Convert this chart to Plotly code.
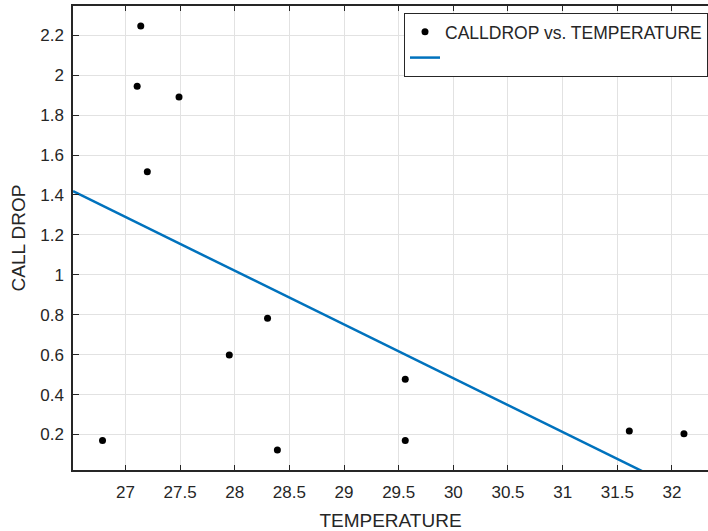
import plotly.graph_objects as go

# Data
temperature = [26.79, 27.14, 27.107, 27.49, 27.20, 28.30, 27.95, 28.39, 29.56, 29.56, 31.61, 32.11]
call_drop = [0.17, 2.247, 1.945, 1.891, 1.516, 0.782, 0.598, 0.122, 0.477, 0.17, 0.217, 0.204]

# Fitted line (read endpoints)
fit_x = [26.52, 32.33]
fit_y = [1.419, -0.146]

x_ticks = [27, 27.5, 28, 28.5, 29, 29.5, 30, 30.5, 31, 31.5, 32]
x_ticktext = ["27", "27.5", "28", "28.5", "29", "29.5", "30", "30.5", "31", "31.5", "32"]
y_ticks = [0.2, 0.4, 0.6, 0.8, 1.0, 1.2, 1.4, 1.6, 1.8, 2.0, 2.2]
y_ticktext = ["0.2", "0.4", "0.6", "0.8", "1", "1.2", "1.4", "1.6", "1.8", "2", "2.2"]

FONT = "Liberation Sans, Arial, Helvetica, sans-serif"
DARK = "#262626"
GRID = "#e2e2e2"

fig = go.Figure()
fig.add_trace(go.Scatter(
    x=temperature, y=call_drop, mode="markers",
    marker=dict(color="black", size=7),
    name="CALLDROP vs. TEMPERATURE",
))
fig.add_trace(go.Scatter(
    x=fit_x, y=fit_y, mode="lines",
    line=dict(color="#0072BD", width=2.5),
    name=" ",
))

fig.update_layout(
    width=708, height=531,
    margin=dict(l=73, r=0, t=6, b=61),
    paper_bgcolor="white", plot_bgcolor="white",
    font=dict(family=FONT, color=DARK, size=17),
    showlegend=True,
    legend=dict(
        x=1, xanchor="right", y=0.985, yanchor="top",
        bgcolor="white", bordercolor=DARK, borderwidth=1,
        font=dict(size=17.5, color=DARK),
    ),
    xaxis=dict(
        range=[26.52, 32.33],
        tickvals=x_ticks, ticktext=x_ticktext,
        showgrid=True, gridcolor=GRID, gridwidth=1,
        zeroline=False,
        showline=True, linecolor=DARK, linewidth=1.5, mirror="ticks",
        ticks="inside", ticklen=5, tickcolor=DARK, tickwidth=1,
        tickfont=dict(size=17, color=DARK),
        ticklabelstandoff=6,
        title=dict(text="TEMPERATURE", font=dict(size=19, color=DARK), standoff=14),
    ),
    yaxis=dict(
        range=[0.022, 2.347],
        tickvals=y_ticks, ticktext=y_ticktext,
        showgrid=True, gridcolor=GRID, gridwidth=1,
        zeroline=False,
        showline=True, linecolor=DARK, linewidth=1.5, mirror=False,
        ticks="inside", ticklen=6, tickcolor=DARK, tickwidth=1,
        tickfont=dict(size=17, color=DARK),
        ticklabelstandoff=4,
        title=dict(text="CALL DROP", font=dict(size=19, color=DARK), standoff=10),
    ),
)

fig.write_html("out.html")
